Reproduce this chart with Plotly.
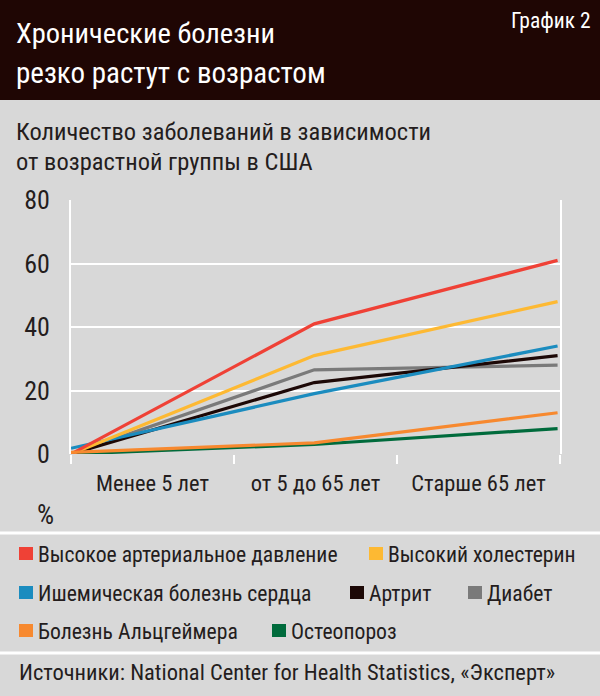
import plotly.graph_objects as go

# ---- data ----
categories = ["Менее 5 лет", "от 5 до 65 лет", "Старше 65 лет"]
series_names = [
    "Высокое артериальное давление",
    "Высокий холестерин",
    "Ишемическая болезнь сердца",
    "Артрит",
    "Диабет",
    "Болезнь Альцгеймера",
    "Остеопороз",
]
hypertension = [0, 41, 61]
cholesterol = [0, 31, 48]
heart_disease = [1.8, 19, 34]
arthritis = [0, 22.5, 31]
diabetes = [0, 26.5, 28]
alzheimer = [0.5, 3.5, 13]
osteoporosis = [0, 3, 8]
y_ticks = [0, 20, 40, 60, 80]

values = [hypertension, cholesterol, heart_disease, arthritis, diabetes, alzheimer, osteoporosis]
colors = ["#ef4136", "#fdb933", "#1b8cbf", "#1c0806", "#7a7a7a", "#f7892f", "#006b3c"]
draw_order = [6, 4, 3, 2, 1, 0, 5]

FONT = "Roboto Condensed, PT Sans Narrow, Liberation Sans Narrow, Roboto, sans-serif"
TXT = "#241d1d"
BG = "#d8d8d8"

W, H = 600, 696
L, R, T, B = 71, 40, 200, 242
PW, PH = W - L - R, H - T - B
XMAX = 2.01
xpos = [0, 1, 2]


def fx(px):
    return (px - L) / PW


def fy(py):
    return (H - B - py) / PH


fig = go.Figure()
for i in draw_order:
    fig.add_trace(go.Scatter(
        x=xpos, y=values[i], mode="lines", name=series_names[i],
        line=dict(color=colors[i], width=3.2), showlegend=False,
        hoverinfo="skip",
    ))

# invisible trace for secondary x axis (tick marks)
fig.add_trace(go.Scatter(x=[0], y=[0], xaxis="x2", mode="markers",
                         marker=dict(opacity=0), showlegend=False, hoverinfo="skip"))

shapes = []
annotations = []


def note(text, px, py, size, color=TXT, anchor="left"):
    annotations.append(dict(text=text, x=fx(px), y=fy(py), xref="paper", yref="paper",
                            xanchor=anchor, yanchor="middle", showarrow=False,
                            font=dict(family=FONT, size=size, color=color)))


# header band
shapes.append(dict(type="rect", xref="paper", yref="paper", x0=fx(0), x1=fx(W),
                   y0=fy(100), y1=fy(0), fillcolor="#1f0604", line=dict(width=0), layer="below"))
# separators
for yy in [533, 653]:
    shapes.append(dict(type="line", xref="paper", yref="paper", x0=fx(0), x1=fx(W),
                       y0=fy(yy), y1=fy(yy), line=dict(color="white", width=3)))

note("Хронические болезни", 14, 33, 28.5, "white")
note("резко растут с возрастом", 14, 73, 29, "white")
note("График 2", 593, 21, 21.5, "white", "right")
note("Количество заболеваний в зависимости", 14, 131, 24.5)
note("от возрастной группы в США", 14, 161, 24.5)
note("%", 35, 515, 27)

# legend (manual layout)
legend_pos = [(19, 553), (369, 553), (19, 592), (350, 592), (468, 592), (19, 630), (272, 630)]
for i, (lx, ly) in enumerate(legend_pos):
    shapes.append(dict(type="rect", xref="paper", yref="paper",
                       x0=fx(lx), x1=fx(lx + 14), y0=fy(ly + 7), y1=fy(ly - 6),
                       fillcolor=colors[i], line=dict(width=0)))
    note(series_names[i], lx + 17, ly + 1, 21.7)

note("Источники: National Center for Health Statistics, «Эксперт»", 17, 672, 22.5)

fig.update_layout(
    width=W, height=H,
    margin=dict(l=L, r=R, t=T, b=B),
    paper_bgcolor=BG, plot_bgcolor=BG,
    showlegend=False,
    shapes=shapes, annotations=annotations,
    xaxis=dict(range=[0, XMAX], tickvals=[XMAX / 6, XMAX / 2, 5 * XMAX / 6], ticktext=categories,
               showgrid=False, zeroline=False, showline=False, ticks="",
               tickfont=dict(family=FONT, size=22.5, color=TXT), ticklabelstandoff=13),
    xaxis2=dict(range=[0, XMAX], overlaying="x", anchor="y", side="bottom",
                tickvals=[0, XMAX / 3, 2 * XMAX / 3, XMAX], ticks="outside", ticklen=9,
                tickwidth=2, tickcolor="white", showticklabels=False,
                showgrid=False, zeroline=False, showline=False),
    yaxis=dict(range=[0, 80], tickvals=y_ticks, showgrid=True, gridcolor="white", gridwidth=2,
               zeroline=False, showline=True, linecolor="white", linewidth=2, mirror=True,
               ticks="", tickfont=dict(family=FONT, size=26, color=TXT), ticklabelstandoff=14),
)

fig.write_html("out.html", config={"displayModeBar": False},
               post_script="document.body.style.margin='0px';")
